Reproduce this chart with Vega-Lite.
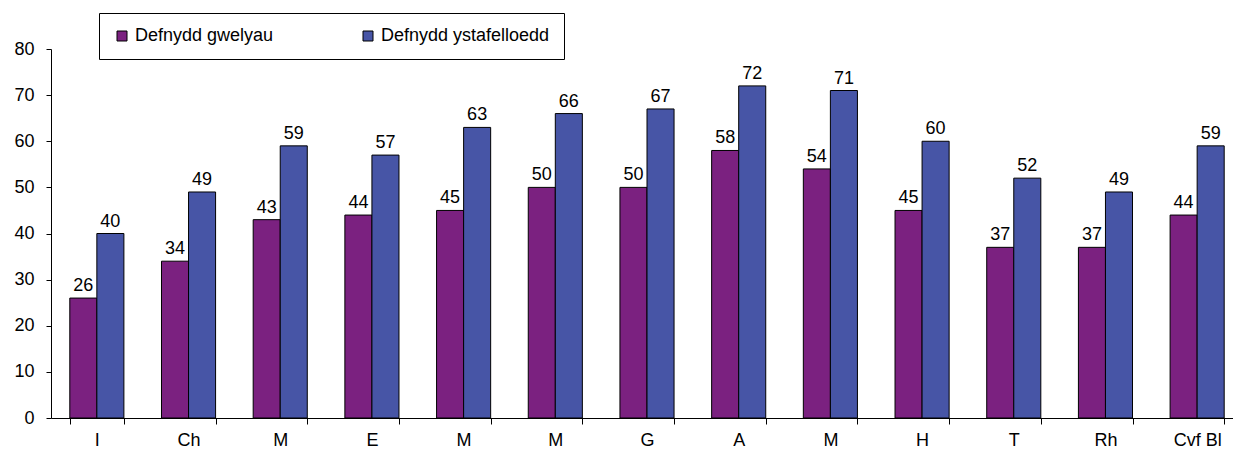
{
  "$schema": "https://vega.github.io/schema/vega-lite/v6.json",
  "width": 1182,
  "height": 369,
  "autosize": {"type": "none"},
  "padding": {"left": 51, "top": 49, "right": 0, "bottom": 32},
  "background": "white",
  "config": {
    "view": {"stroke": null},
    "font": "Liberation Sans",
    "axis": {"domainColor": "black", "tickColor": "black", "labelColor": "black", "labelFont": "Liberation Sans", "labelFontSize": 18, "grid": false, "title": null}
  },
  "data": {
    "values": [
      {"pos": 1, "label": "I", "series": "Defnydd gwelyau", "value": 26},
      {"pos": 1, "label": "I", "series": "Defnydd ystafelloedd", "value": 40},
      {"pos": 2, "label": "Ch", "series": "Defnydd gwelyau", "value": 34},
      {"pos": 2, "label": "Ch", "series": "Defnydd ystafelloedd", "value": 49},
      {"pos": 3, "label": "M", "series": "Defnydd gwelyau", "value": 43},
      {"pos": 3, "label": "M", "series": "Defnydd ystafelloedd", "value": 59},
      {"pos": 4, "label": "E", "series": "Defnydd gwelyau", "value": 44},
      {"pos": 4, "label": "E", "series": "Defnydd ystafelloedd", "value": 57},
      {"pos": 5, "label": "M", "series": "Defnydd gwelyau", "value": 45},
      {"pos": 5, "label": "M", "series": "Defnydd ystafelloedd", "value": 63},
      {"pos": 6, "label": "M", "series": "Defnydd gwelyau", "value": 50},
      {"pos": 6, "label": "M", "series": "Defnydd ystafelloedd", "value": 66},
      {"pos": 7, "label": "G", "series": "Defnydd gwelyau", "value": 50},
      {"pos": 7, "label": "G", "series": "Defnydd ystafelloedd", "value": 67},
      {"pos": 8, "label": "A", "series": "Defnydd gwelyau", "value": 58},
      {"pos": 8, "label": "A", "series": "Defnydd ystafelloedd", "value": 72},
      {"pos": 9, "label": "M", "series": "Defnydd gwelyau", "value": 54},
      {"pos": 9, "label": "M", "series": "Defnydd ystafelloedd", "value": 71},
      {"pos": 10, "label": "H", "series": "Defnydd gwelyau", "value": 45},
      {"pos": 10, "label": "H", "series": "Defnydd ystafelloedd", "value": 60},
      {"pos": 11, "label": "T", "series": "Defnydd gwelyau", "value": 37},
      {"pos": 11, "label": "T", "series": "Defnydd ystafelloedd", "value": 52},
      {"pos": 12, "label": "Rh", "series": "Defnydd gwelyau", "value": 37},
      {"pos": 12, "label": "Rh", "series": "Defnydd ystafelloedd", "value": 49},
      {"pos": 13, "label": "Cvf Bl", "series": "Defnydd gwelyau", "value": 44},
      {"pos": 13, "label": "Cvf Bl", "series": "Defnydd ystafelloedd", "value": 59}
    ]
  },
  "encoding": {
    "x": {
      "field": "pos", "type": "ordinal", "sort": "ascending",
      "scale": {"range": [0, 1192], "paddingInner": 0.41, "paddingOuter": 0.205},
      "axis": {
        "labelAngle": 0, "tickBand": "extent", "tickSize": 6, "labelPadding": 7,
        "labelExpr": "['I','Ch','M','E','M','M','G','A','M','H','T','Rh','Cvf Bl'][datum.value - 1]"
      }
    },
    "xOffset": {"field": "series", "type": "nominal"},
    "y": {
      "field": "value", "type": "quantitative",
      "scale": {"domain": [0, 80], "nice": false},
      "axis": {"values": [0, 10, 20, 30, 40, 50, 60, 70, 80], "tickSize": 5, "labelPadding": 12}
    }
  },
  "layer": [
    {
      "mark": {"type": "bar", "stroke": "black", "strokeWidth": 1},
      "encoding": {
        "color": {
          "field": "series", "type": "nominal",
          "scale": {"domain": ["Defnydd gwelyau", "Defnydd ystafelloedd"], "range": ["#7B2180", "#4755A6"]},
          "legend": {
            "title": null, "orient": "none", "direction": "horizontal",
            "legendX": 48, "legendY": -36,
            "strokeColor": "black", "fillColor": "white", "padding": 14,
            "symbolType": "square", "symbolSize": 100, "symbolStrokeColor": "black", "symbolStrokeWidth": 1,
            "labelFont": "Liberation Sans", "labelFontSize": 18, "labelColor": "black", "labelOffset": 4,
            "columnPadding": 85, "labelLimit": 300
          }
        }
      }
    },
    {
      "mark": {"type": "text", "baseline": "alphabetic", "dy": -7, "fontSize": 18, "font": "Liberation Sans", "color": "black"},
      "encoding": {"text": {"field": "value", "type": "quantitative"}}
    }
  ]
}
